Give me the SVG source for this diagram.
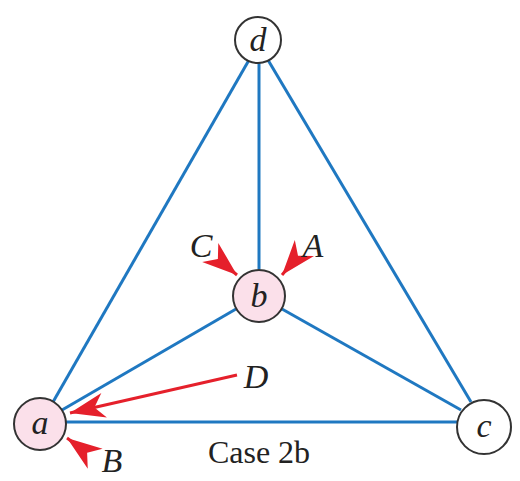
<svg xmlns="http://www.w3.org/2000/svg" width="520" height="481" viewBox="0 0 520 481">
<style>
.edge{stroke:#1f78c1;stroke-width:3;fill:none}
.red{stroke:#e5202b;stroke-width:3;fill:none}
.node{stroke:#333;stroke-width:2}
.pink{fill:#fbe0ea}
.white{fill:#fff}
.lbl{font-family:"Liberation Serif",serif;font-style:italic;font-size:34px;fill:#222}
.cap{font-family:"Liberation Serif",serif;font-size:32px;fill:#222}
</style>
<defs>
<marker id="ah" markerUnits="userSpaceOnUse" markerWidth="40" markerHeight="28" viewBox="-38 -14 40 28" refX="0" refY="0" orient="auto">
<path d="M0,0 L-35,-12.5 L-25,0 L-35,12.5 Z" fill="#e5202b"/>
</marker>
</defs>
<g id="connectors">
<line class="edge" x1="249" y1="60" x2="53" y2="402"/>
<line class="edge" x1="268" y1="60" x2="471" y2="402"/>
<line class="edge" x1="259" y1="63" x2="259" y2="269"/>
<line class="edge" x1="236" y1="309" x2="62" y2="410"/>
<line class="edge" x1="282" y1="309" x2="461" y2="410"/>
<line class="edge" x1="66" y1="422" x2="458" y2="422"/>
<line class="red" x1="218" y1="259" x2="237" y2="275" marker-end="url(#ah)"/>
<line class="red" x1="297" y1="257" x2="282" y2="275" marker-end="url(#ah)"/>
<line class="red" x1="237" y1="375" x2="70" y2="413" marker-end="url(#ah)"/>
<line class="red" x1="86" y1="452" x2="67" y2="438" marker-end="url(#ah)"/>
</g>
<g id="node-d">
<circle class="node white" cx="258" cy="40" r="23"/>
<text class="lbl" x="258" y="51" text-anchor="middle">d</text>
</g>
<g id="node-b">
<circle class="node pink" cx="259" cy="296" r="26"/>
<text class="lbl" x="259" y="307" text-anchor="middle">b</text>
</g>
<g id="node-a">
<circle class="node pink" cx="40" cy="424" r="26"/>
<text class="lbl" x="40" y="434" text-anchor="middle">a</text>
</g>
<g id="node-c">
<circle class="node white" cx="484" cy="427" r="27"/>
<text class="lbl" x="484" y="437" text-anchor="middle">c</text>
</g>
<g id="labels">
<text class="lbl" x="201" y="257" text-anchor="middle">C</text>
<text class="lbl" x="313" y="257" text-anchor="middle">A</text>
<text class="lbl" x="256" y="388" text-anchor="middle">D</text>
<text class="lbl" x="112" y="472" text-anchor="middle">B</text>
<text class="cap" x="259" y="463" text-anchor="middle">Case 2b</text>
</g>
</svg>
